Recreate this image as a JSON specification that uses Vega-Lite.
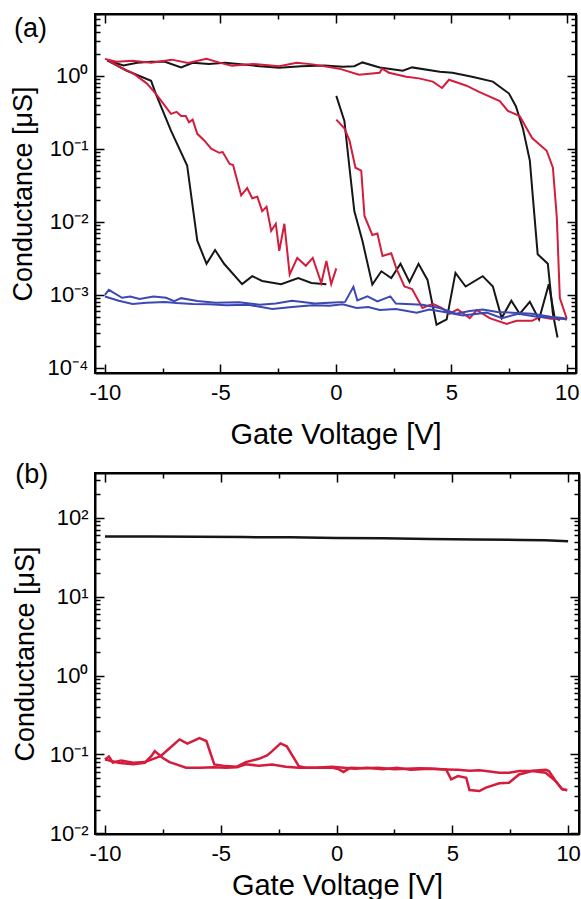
{
"$schema": "https://vega.github.io/schema/vega-lite/v6.json",
"padding": {"top": 12, "left": 8, "right": 4, "bottom": 0},
"background": "white",
"config": {
 "view": {"stroke": "black", "strokeWidth": 2},
 "font": "Liberation Sans",
 "axis": {"grid": false, "domainColor": "black", "domainWidth": 2, "tickColor": "black", "tickWidth": 1.5,
  "labelFont": "Liberation Sans", "labelFontSize": 22, "labelColor": "black",
  "titleFont": "Liberation Sans", "titleFontSize": 27, "titleFontWeight": "normal", "titleColor": "black"},
 "title": {"font": "Liberation Sans", "fontSize": 27, "fontWeight": "normal", "color": "black"}
},
"spacing": 10,
"datasets": {
"a": [
{"trace":"k1","sample":"S1","V":-9.9,"G":1.62},{"trace":"k1","sample":"S1","V":-9.2,"G":1.38},{"trace":"k1","sample":"S1","V":-8.6,"G":1.5},{"trace":"k1","sample":"S1","V":-8.0,"G":1.55},{"trace":"k1","sample":"S1","V":-7.4,"G":1.55},{"trace":"k1","sample":"S1","V":-6.7,"G":1.3},{"trace":"k1","sample":"S1","V":-6.2,"G":1.5},{"trace":"k1","sample":"S1","V":-5.5,"G":1.45},{"trace":"k1","sample":"S1","V":-4.8,"G":1.5},{"trace":"k1","sample":"S1","V":-4.0,"G":1.42},{"trace":"k1","sample":"S1","V":-3.3,"G":1.35},{"trace":"k1","sample":"S1","V":-2.45,"G":1.29},{"trace":"k1","sample":"S1","V":-1.5,"G":1.35},{"trace":"k1","sample":"S1","V":-0.5,"G":1.38},{"trace":"k1","sample":"S1","V":0.3,"G":1.33},{"trace":"k1","sample":"S1","V":0.8,"G":1.35},{"trace":"k1","sample":"S1","V":1.15,"G":1.52},{"trace":"k1","sample":"S1","V":1.9,"G":1.3},{"trace":"k1","sample":"S1","V":2.9,"G":1.17},{"trace":"k1","sample":"S1","V":3.3,"G":1.3},{"trace":"k1","sample":"S1","V":4.5,"G":1.13},{"trace":"k1","sample":"S1","V":5.05,"G":1.1},{"trace":"k1","sample":"S1","V":5.9,"G":0.97},{"trace":"k1","sample":"S1","V":6.8,"G":0.83},{"trace":"k1","sample":"S1","V":7.5,"G":0.57},{"trace":"k1","sample":"S1","V":7.8,"G":0.38},{"trace":"k1","sample":"S1","V":8.1,"G":0.19},{"trace":"k1","sample":"S1","V":8.4,"G":0.069},{"trace":"k1","sample":"S1","V":8.57,"G":0.0156},{"trace":"k1","sample":"S1","V":8.74,"G":0.0036},{"trace":"k1","sample":"S1","V":9.18,"G":0.00266},{"trace":"k1","sample":"S1","V":9.4,"G":0.00055},{"trace":"k1","sample":"S1","V":9.6,"G":0.00026},
{"trace":"k2","sample":"S1","V":-9.9,"G":1.62},{"trace":"k2","sample":"S1","V":-9.05,"G":1.17},{"trace":"k2","sample":"S1","V":-8.0,"G":0.85},{"trace":"k2","sample":"S1","V":-7.8,"G":0.57},{"trace":"k2","sample":"S1","V":-7.14,"G":0.177},{"trace":"k2","sample":"S1","V":-6.44,"G":0.059},{"trace":"k2","sample":"S1","V":-6.0,"G":0.0055},{"trace":"k2","sample":"S1","V":-5.6,"G":0.00266},{"trace":"k2","sample":"S1","V":-5.23,"G":0.0041},{"trace":"k2","sample":"S1","V":-4.84,"G":0.00266},{"trace":"k2","sample":"S1","V":-4.06,"G":0.0014},{"trace":"k2","sample":"S1","V":-3.62,"G":0.0018},{"trace":"k2","sample":"S1","V":-3.19,"G":0.00155},{"trace":"k2","sample":"S1","V":-2.37,"G":0.0014},{"trace":"k2","sample":"S1","V":-1.63,"G":0.0017},{"trace":"k2","sample":"S1","V":-1.06,"G":0.00145},{"trace":"k2","sample":"S1","V":-0.41,"G":0.0014},
{"trace":"k3","sample":"S1","V":0.02,"G":0.53},{"trace":"k3","sample":"S1","V":0.37,"G":0.24},{"trace":"k3","sample":"S1","V":0.59,"G":0.055},{"trace":"k3","sample":"S1","V":0.8,"G":0.014},{"trace":"k3","sample":"S1","V":1.15,"G":0.0055},{"trace":"k3","sample":"S1","V":1.58,"G":0.00138},{"trace":"k3","sample":"S1","V":1.97,"G":0.0021},{"trace":"k3","sample":"S1","V":2.4,"G":0.0017},{"trace":"k3","sample":"S1","V":2.8,"G":0.00266},{"trace":"k3","sample":"S1","V":3.19,"G":0.0015},{"trace":"k3","sample":"S1","V":3.58,"G":0.00266},{"trace":"k3","sample":"S1","V":3.97,"G":0.0016},{"trace":"k3","sample":"S1","V":4.36,"G":0.00039},{"trace":"k3","sample":"S1","V":4.8,"G":0.00046},{"trace":"k3","sample":"S1","V":5.18,"G":0.002},{"trace":"k3","sample":"S1","V":5.62,"G":0.0013},{"trace":"k3","sample":"S1","V":6.36,"G":0.0018},{"trace":"k3","sample":"S1","V":6.8,"G":0.0013},{"trace":"k3","sample":"S1","V":7.18,"G":0.00048},{"trace":"k3","sample":"S1","V":7.6,"G":0.00083},{"trace":"k3","sample":"S1","V":7.96,"G":0.00055},{"trace":"k3","sample":"S1","V":8.4,"G":0.0008},{"trace":"k3","sample":"S1","V":8.8,"G":0.00046},{"trace":"k3","sample":"S1","V":9.22,"G":0.0014},{"trace":"k3","sample":"S1","V":9.48,"G":0.00048},{"trace":"k3","sample":"S1","V":9.7,"G":0.00045},
{"trace":"r1","sample":"S2","V":-10,"G":1.7},{"trace":"r1","sample":"S2","V":-9.5,"G":1.55},{"trace":"r1","sample":"S2","V":-8.8,"G":1.6},{"trace":"r1","sample":"S2","V":-8.0,"G":1.5},{"trace":"r1","sample":"S2","V":-7.1,"G":1.66},{"trace":"r1","sample":"S2","V":-6.4,"G":1.5},{"trace":"r1","sample":"S2","V":-5.6,"G":1.7},{"trace":"r1","sample":"S2","V":-5.0,"G":1.5},{"trace":"r1","sample":"S2","V":-4.5,"G":1.37},{"trace":"r1","sample":"S2","V":-3.6,"G":1.45},{"trace":"r1","sample":"S2","V":-2.45,"G":1.35},{"trace":"r1","sample":"S2","V":-1.7,"G":1.5},{"trace":"r1","sample":"S2","V":-1.0,"G":1.43},{"trace":"r1","sample":"S2","V":0.15,"G":1.25},{"trace":"r1","sample":"S2","V":1.0,"G":1.03},{"trace":"r1","sample":"S2","V":1.9,"G":1.1},{"trace":"r1","sample":"S2","V":2.0,"G":1.25},{"trace":"r1","sample":"S2","V":2.3,"G":1.1},{"trace":"r1","sample":"S2","V":3.05,"G":0.97},{"trace":"r1","sample":"S2","V":3.6,"G":0.92},{"trace":"r1","sample":"S2","V":4.2,"G":0.83},{"trace":"r1","sample":"S2","V":4.6,"G":0.68},{"trace":"r1","sample":"S2","V":4.9,"G":0.88},{"trace":"r1","sample":"S2","V":5.66,"G":0.73},{"trace":"r1","sample":"S2","V":6.2,"G":0.6},{"trace":"r1","sample":"S2","V":7.1,"G":0.45},{"trace":"r1","sample":"S2","V":7.45,"G":0.33},{"trace":"r1","sample":"S2","V":7.96,"G":0.28},{"trace":"r1","sample":"S2","V":8.5,"G":0.14},{"trace":"r1","sample":"S2","V":9.13,"G":0.094},{"trace":"r1","sample":"S2","V":9.4,"G":0.055},{"trace":"r1","sample":"S2","V":9.57,"G":0.0113},{"trace":"r1","sample":"S2","V":9.7,"G":0.0009},{"trace":"r1","sample":"S2","V":10,"G":0.00047},
{"trace":"r2","sample":"S2","V":-9.9,"G":1.66},{"trace":"r2","sample":"S2","V":-9.3,"G":1.29},{"trace":"r2","sample":"S2","V":-8.74,"G":1.06},{"trace":"r2","sample":"S2","V":-8.18,"G":0.78},{"trace":"r2","sample":"S2","V":-7.8,"G":0.57},{"trace":"r2","sample":"S2","V":-7.14,"G":0.3},{"trace":"r2","sample":"S2","V":-6.9,"G":0.32},{"trace":"r2","sample":"S2","V":-6.7,"G":0.28},{"trace":"r2","sample":"S2","V":-6.5,"G":0.28},{"trace":"r2","sample":"S2","V":-6.36,"G":0.23},{"trace":"r2","sample":"S2","V":-6.2,"G":0.25},{"trace":"r2","sample":"S2","V":-6.0,"G":0.16},{"trace":"r2","sample":"S2","V":-5.7,"G":0.13},{"trace":"r2","sample":"S2","V":-5.4,"G":0.1},{"trace":"r2","sample":"S2","V":-5.05,"G":0.088},{"trace":"r2","sample":"S2","V":-4.9,"G":0.09},{"trace":"r2","sample":"S2","V":-4.6,"G":0.062},{"trace":"r2","sample":"S2","V":-4.45,"G":0.06},{"trace":"r2","sample":"S2","V":-4.1,"G":0.023},{"trace":"r2","sample":"S2","V":-3.84,"G":0.029},{"trace":"r2","sample":"S2","V":-3.62,"G":0.021},{"trace":"r2","sample":"S2","V":-3.4,"G":0.022},{"trace":"r2","sample":"S2","V":-3.19,"G":0.014},{"trace":"r2","sample":"S2","V":-3.0,"G":0.016},{"trace":"r2","sample":"S2","V":-2.8,"G":0.0075},{"trace":"r2","sample":"S2","V":-2.6,"G":0.0094},{"trace":"r2","sample":"S2","V":-2.45,"G":0.004},{"trace":"r2","sample":"S2","V":-2.23,"G":0.0094},{"trace":"r2","sample":"S2","V":-2.0,"G":0.0019},{"trace":"r2","sample":"S2","V":-1.67,"G":0.0032},{"trace":"r2","sample":"S2","V":-1.3,"G":0.0025},{"trace":"r2","sample":"S2","V":-1.0,"G":0.0032},{"trace":"r2","sample":"S2","V":-0.63,"G":0.00145},{"trace":"r2","sample":"S2","V":-0.41,"G":0.0029},{"trace":"r2","sample":"S2","V":-0.2,"G":0.0014},{"trace":"r2","sample":"S2","V":0.02,"G":0.0023},
{"trace":"r3","sample":"S2","V":0.02,"G":0.25},{"trace":"r3","sample":"S2","V":0.37,"G":0.19},{"trace":"r3","sample":"S2","V":0.59,"G":0.13},{"trace":"r3","sample":"S2","V":0.85,"G":0.055},{"trace":"r3","sample":"S2","V":1.1,"G":0.05},{"trace":"r3","sample":"S2","V":1.24,"G":0.012},{"trace":"r3","sample":"S2","V":1.58,"G":0.0066},{"trace":"r3","sample":"S2","V":1.8,"G":0.0069},{"trace":"r3","sample":"S2","V":2.02,"G":0.0034},{"trace":"r3","sample":"S2","V":2.4,"G":0.0037},{"trace":"r3","sample":"S2","V":2.62,"G":0.0023},{"trace":"r3","sample":"S2","V":2.97,"G":0.0013},{"trace":"r3","sample":"S2","V":3.3,"G":0.0012},{"trace":"r3","sample":"S2","V":3.75,"G":0.00066},{"trace":"r3","sample":"S2","V":4.2,"G":0.00075},{"trace":"r3","sample":"S2","V":4.6,"G":0.00066},{"trace":"r3","sample":"S2","V":4.92,"G":0.00055},{"trace":"r3","sample":"S2","V":5.27,"G":0.00063},{"trace":"r3","sample":"S2","V":5.8,"G":0.00048},{"trace":"r3","sample":"S2","V":6.1,"G":0.00062},{"trace":"r3","sample":"S2","V":6.66,"G":0.00048},{"trace":"r3","sample":"S2","V":7.4,"G":0.0004},{"trace":"r3","sample":"S2","V":7.83,"G":0.00044},{"trace":"r3","sample":"S2","V":8.5,"G":0.00044},{"trace":"r3","sample":"S2","V":8.84,"G":0.0005},{"trace":"r3","sample":"S2","V":9.3,"G":0.00047},{"trace":"r3","sample":"S2","V":10,"G":0.00047},
{"trace":"b1","sample":"S3","V":-10,"G":0.001},{"trace":"b1","sample":"S3","V":-9.83,"G":0.00117},{"trace":"b1","sample":"S3","V":-9.26,"G":0.00091},{"trace":"b1","sample":"S3","V":-8.9,"G":0.00095},{"trace":"b1","sample":"S3","V":-8.5,"G":0.00088},{"trace":"b1","sample":"S3","V":-7.9,"G":0.00095},{"trace":"b1","sample":"S3","V":-7.35,"G":0.00091},{"trace":"b1","sample":"S3","V":-7.0,"G":0.00082},{"trace":"b1","sample":"S3","V":-6.7,"G":0.0009},{"trace":"b1","sample":"S3","V":-6.0,"G":0.00082},{"trace":"b1","sample":"S3","V":-5.2,"G":0.00078},{"trace":"b1","sample":"S3","V":-4.2,"G":0.00079},{"trace":"b1","sample":"S3","V":-3.3,"G":0.00073},{"trace":"b1","sample":"S3","V":-2.6,"G":0.00076},{"trace":"b1","sample":"S3","V":-1.9,"G":0.00083},{"trace":"b1","sample":"S3","V":-0.9,"G":0.00076},{"trace":"b1","sample":"S3","V":-0.28,"G":0.00078},{"trace":"b1","sample":"S3","V":0.4,"G":0.0008},{"trace":"b1","sample":"S3","V":0.76,"G":0.00129},{"trace":"b1","sample":"S3","V":0.93,"G":0.00084},{"trace":"b1","sample":"S3","V":1.37,"G":0.00095},{"trace":"b1","sample":"S3","V":1.8,"G":0.00081},{"trace":"b1","sample":"S3","V":2.36,"G":0.00095},{"trace":"b1","sample":"S3","V":2.6,"G":0.00076},{"trace":"b1","sample":"S3","V":3.75,"G":0.00073},{"trace":"b1","sample":"S3","V":4.5,"G":0.00066},{"trace":"b1","sample":"S3","V":5.2,"G":0.00055},{"trace":"b1","sample":"S3","V":5.8,"G":0.0006},{"trace":"b1","sample":"S3","V":6.36,"G":0.00063},{"trace":"b1","sample":"S3","V":7.0,"G":0.00058},{"trace":"b1","sample":"S3","V":7.66,"G":0.00057},{"trace":"b1","sample":"S3","V":8.5,"G":0.00055},{"trace":"b1","sample":"S3","V":9.3,"G":0.0005},{"trace":"b1","sample":"S3","V":9.83,"G":0.00048},{"trace":"b1","sample":"S3","V":10,"G":0.00046},
{"trace":"b2","sample":"S3","V":-10,"G":0.00095},{"trace":"b2","sample":"S3","V":-9.4,"G":0.00083},{"trace":"b2","sample":"S3","V":-8.8,"G":0.00075},{"trace":"b2","sample":"S3","V":-8.2,"G":0.00078},{"trace":"b2","sample":"S3","V":-7.4,"G":0.0008},{"trace":"b2","sample":"S3","V":-6.9,"G":0.00077},{"trace":"b2","sample":"S3","V":-6.2,"G":0.00075},{"trace":"b2","sample":"S3","V":-5.5,"G":0.00074},{"trace":"b2","sample":"S3","V":-4.75,"G":0.00072},{"trace":"b2","sample":"S3","V":-3.8,"G":0.00073},{"trace":"b2","sample":"S3","V":-2.75,"G":0.00064},{"trace":"b2","sample":"S3","V":-1.9,"G":0.00068},{"trace":"b2","sample":"S3","V":-1.0,"G":0.00072},{"trace":"b2","sample":"S3","V":-0.28,"G":0.00071},{"trace":"b2","sample":"S3","V":0.3,"G":0.00074},{"trace":"b2","sample":"S3","V":0.9,"G":0.00066},{"trace":"b2","sample":"S3","V":1.4,"G":0.00068},{"trace":"b2","sample":"S3","V":1.9,"G":0.00062},{"trace":"b2","sample":"S3","V":2.6,"G":0.00064},{"trace":"b2","sample":"S3","V":3.5,"G":0.00057},{"trace":"b2","sample":"S3","V":4.05,"G":0.00063},{"trace":"b2","sample":"S3","V":4.7,"G":0.00058},{"trace":"b2","sample":"S3","V":5.5,"G":0.00052},{"trace":"b2","sample":"S3","V":6.53,"G":0.00057},{"trace":"b2","sample":"S3","V":7.2,"G":0.00048},{"trace":"b2","sample":"S3","V":7.9,"G":0.00055},{"trace":"b2","sample":"S3","V":8.7,"G":0.0005},{"trace":"b2","sample":"S3","V":9.3,"G":0.00049},{"trace":"b2","sample":"S3","V":9.83,"G":0.00047},{"trace":"b2","sample":"S3","V":10,"G":0.00046}
],
"b": [
{"trace":"k","sample":"S1","V":-10,"G":58},{"trace":"k","sample":"S1","V":-8,"G":58},{"trace":"k","sample":"S1","V":-6,"G":57.5},{"trace":"k","sample":"S1","V":-4,"G":57},{"trace":"k","sample":"S1","V":-2,"G":56.5},{"trace":"k","sample":"S1","V":0,"G":55.5},{"trace":"k","sample":"S1","V":2,"G":55},{"trace":"k","sample":"S1","V":4,"G":54},{"trace":"k","sample":"S1","V":6,"G":53},{"trace":"k","sample":"S1","V":8,"G":52.5},{"trace":"k","sample":"S1","V":9,"G":52},{"trace":"k","sample":"S1","V":10,"G":50.5},
{"trace":"rA","sample":"S2","V":-10,"G":0.0865},{"trace":"rA","sample":"S2","V":-9.83,"G":0.094},{"trace":"rA","sample":"S2","V":-9.66,"G":0.079},{"trace":"rA","sample":"S2","V":-9.3,"G":0.084},{"trace":"rA","sample":"S2","V":-8.78,"G":0.0785},{"trace":"rA","sample":"S2","V":-8.28,"G":0.08},{"trace":"rA","sample":"S2","V":-7.6,"G":0.095},{"trace":"rA","sample":"S2","V":-7.21,"G":0.12},{"trace":"rA","sample":"S2","V":-6.78,"G":0.155},{"trace":"rA","sample":"S2","V":-6.44,"G":0.137},{"trace":"rA","sample":"S2","V":-5.92,"G":0.161},{"trace":"rA","sample":"S2","V":-5.62,"G":0.148},{"trace":"rA","sample":"S2","V":-5.28,"G":0.0747},{"trace":"rA","sample":"S2","V":-4.78,"G":0.0711},{"trace":"rA","sample":"S2","V":-4.3,"G":0.07},{"trace":"rA","sample":"S2","V":-3.92,"G":0.08},{"trace":"rA","sample":"S2","V":-3.35,"G":0.088},{"trace":"rA","sample":"S2","V":-3.0,"G":0.097},{"trace":"rA","sample":"S2","V":-2.78,"G":0.11},{"trace":"rA","sample":"S2","V":-2.42,"G":0.138},{"trace":"rA","sample":"S2","V":-2.15,"G":0.127},{"trace":"rA","sample":"S2","V":-1.63,"G":0.0711},{"trace":"rA","sample":"S2","V":-1.33,"G":0.0678},{"trace":"rA","sample":"S2","V":-0.6,"G":0.068},{"trace":"rA","sample":"S2","V":-0.2,"G":0.068},{"trace":"rA","sample":"S2","V":0.1,"G":0.0646},{"trace":"rA","sample":"S2","V":0.3,"G":0.06},{"trace":"rA","sample":"S2","V":0.6,"G":0.068},{"trace":"rA","sample":"S2","V":1.2,"G":0.067},{"trace":"rA","sample":"S2","V":1.8,"G":0.0678},{"trace":"rA","sample":"S2","V":2.5,"G":0.065},{"trace":"rA","sample":"S2","V":3.0,"G":0.066},{"trace":"rA","sample":"S2","V":3.6,"G":0.067},{"trace":"rA","sample":"S2","V":4.2,"G":0.066},{"trace":"rA","sample":"S2","V":4.73,"G":0.0646},{"trace":"rA","sample":"S2","V":4.95,"G":0.0483},{"trace":"rA","sample":"S2","V":5.24,"G":0.0532},{"trace":"rA","sample":"S2","V":5.6,"G":0.0507},{"trace":"rA","sample":"S2","V":5.74,"G":0.0354},{"trace":"rA","sample":"S2","V":6.17,"G":0.0343},{"trace":"rA","sample":"S2","V":6.45,"G":0.038},{"trace":"rA","sample":"S2","V":7.03,"G":0.043},{"trace":"rA","sample":"S2","V":7.45,"G":0.0438},{"trace":"rA","sample":"S2","V":7.88,"G":0.0558},{"trace":"rA","sample":"S2","V":8.45,"G":0.0615},{"trace":"rA","sample":"S2","V":9.03,"G":0.0586},{"trace":"rA","sample":"S2","V":9.46,"G":0.046},{"trace":"rA","sample":"S2","V":9.74,"G":0.036},{"trace":"rA","sample":"S2","V":9.96,"G":0.0354},
{"trace":"rB","sample":"S2","V":-10,"G":0.0865},{"trace":"rB","sample":"S2","V":-9.7,"G":0.082},{"trace":"rB","sample":"S2","V":-9.36,"G":0.078},{"trace":"rB","sample":"S2","V":-8.78,"G":0.075},{"trace":"rB","sample":"S2","V":-8.28,"G":0.0785},{"trace":"rB","sample":"S2","V":-8.0,"G":0.095},{"trace":"rB","sample":"S2","V":-7.85,"G":0.11},{"trace":"rB","sample":"S2","V":-7.5,"G":0.09},{"trace":"rB","sample":"S2","V":-7.21,"G":0.08},{"trace":"rB","sample":"S2","V":-6.92,"G":0.0747},{"trace":"rB","sample":"S2","V":-6.5,"G":0.0678},{"trace":"rB","sample":"S2","V":-5.9,"G":0.0678},{"trace":"rB","sample":"S2","V":-5.3,"G":0.069},{"trace":"rB","sample":"S2","V":-4.78,"G":0.068},{"trace":"rB","sample":"S2","V":-4.3,"G":0.069},{"trace":"rB","sample":"S2","V":-3.92,"G":0.075},{"trace":"rB","sample":"S2","V":-3.35,"G":0.072},{"trace":"rB","sample":"S2","V":-2.78,"G":0.0747},{"trace":"rB","sample":"S2","V":-2.2,"G":0.07},{"trace":"rB","sample":"S2","V":-1.63,"G":0.0678},{"trace":"rB","sample":"S2","V":-0.9,"G":0.068},{"trace":"rB","sample":"S2","V":-0.2,"G":0.07},{"trace":"rB","sample":"S2","V":0.3,"G":0.068},{"trace":"rB","sample":"S2","V":0.8,"G":0.066},{"trace":"rB","sample":"S2","V":1.3,"G":0.068},{"trace":"rB","sample":"S2","V":2.0,"G":0.065},{"trace":"rB","sample":"S2","V":2.6,"G":0.068},{"trace":"rB","sample":"S2","V":3.2,"G":0.064},{"trace":"rB","sample":"S2","V":4.0,"G":0.066},{"trace":"rB","sample":"S2","V":4.73,"G":0.0646},{"trace":"rB","sample":"S2","V":5.24,"G":0.064},{"trace":"rB","sample":"S2","V":5.74,"G":0.062},{"trace":"rB","sample":"S2","V":6.17,"G":0.063},{"trace":"rB","sample":"S2","V":6.45,"G":0.0615},{"trace":"rB","sample":"S2","V":7.03,"G":0.0586},{"trace":"rB","sample":"S2","V":7.45,"G":0.0586},{"trace":"rB","sample":"S2","V":7.88,"G":0.0615},{"trace":"rB","sample":"S2","V":8.45,"G":0.062},{"trace":"rB","sample":"S2","V":9.03,"G":0.064},{"trace":"rB","sample":"S2","V":9.17,"G":0.0615},{"trace":"rB","sample":"S2","V":9.46,"G":0.046},{"trace":"rB","sample":"S2","V":9.74,"G":0.0365},{"trace":"rB","sample":"S2","V":9.96,"G":0.035}
]
},
"vconcat": [
{
 "title": {"text": "(a)", "anchor": "start", "frame": "bounds", "offset": 0, "dy": 30, "dx": 5},
 "width": 481, "height": 359,
 "data": {"name": "a"},
 "resolve": {"axis": {"x": "independent", "y": "independent"}},
 "layer": [
  {"mark": {"type": "line", "strokeWidth": 2, "clip": true},
   "encoding": {
    "x": {"field": "V", "type": "quantitative", "scale": {"domain": [-10.43, 10.4], "nice": false, "zero": false},
      "axis": {"orient": "bottom", "title": "Gate Voltage [V]", "titleFontSize": 29, "values": [-10,-7.5,-5,-2.5,0,2.5,5,7.5,10],
        "labelExpr": "datum.value % 5 == 0 ? toString(datum.value) : ''",
        "tickSize": {"condition": {"test": "datum.value % 5 == 0", "value": -9}, "value": -5},
        "labelPadding": 18, "titlePadding": 17}},
    "y": {"field": "G", "type": "quantitative", "scale": {"type": "log", "domain": [0.000085, 7], "nice": false},
      "axis": {"orient": "left", "title": "Conductance [μS]",
        "values": [0.0001,0.0002,0.0003,0.0004,0.0005,0.0006,0.0007,0.0008,0.0009,0.001,0.002,0.003,0.004,0.005,0.006,0.007,0.008,0.009,0.01,0.02,0.03,0.04,0.05,0.06,0.07,0.08,0.09,0.1,0.2,0.3,0.4,0.5,0.6,0.7,0.8,0.9,1,2,3,4,5,6,7],
        "labelExpr": "abs(log(datum.value)/LN10 - round(log(datum.value)/LN10)) < 0.001 ? (round(log(datum.value)/LN10) == 0 ? '10⁰' : round(log(datum.value)/LN10) == 1 ? '10¹' : round(log(datum.value)/LN10) == 2 ? '10²' : round(log(datum.value)/LN10) == -1 ? '10⁻¹' : round(log(datum.value)/LN10) == -2 ? '10⁻²' : round(log(datum.value)/LN10) == -3 ? '10⁻³' : '10⁻⁴') : ''",
        "tickSize": {"condition": {"test": "abs(log(datum.value)/LN10 - round(log(datum.value)/LN10)) < 0.001", "value": -9}, "value": -5},
        "labelPadding": 16, "titlePadding": 10}},
    "color": {"field": "sample", "type": "nominal", "scale": {"domain": ["S1","S2","S3"], "range": ["#161616","#d41c3c","#3d48b3"]}, "legend": null},
    "detail": {"field": "trace"}
   }},
  {"mark": {"type": "line", "strokeOpacity": 0},
   "encoding": {
    "x": {"field": "V", "type": "quantitative",
      "axis": {"orient": "top", "title": null, "labels": false, "values": [-10,-7.5,-5,-2.5,0,2.5,5,7.5,10],
        "tickSize": {"condition": {"test": "datum.value % 5 == 0", "value": -9}, "value": -5}}},
    "y": {"field": "G", "type": "quantitative",
      "axis": {"orient": "right", "title": null, "labels": false,
        "values": [0.0001,0.0002,0.0003,0.0004,0.0005,0.0006,0.0007,0.0008,0.0009,0.001,0.002,0.003,0.004,0.005,0.006,0.007,0.008,0.009,0.01,0.02,0.03,0.04,0.05,0.06,0.07,0.08,0.09,0.1,0.2,0.3,0.4,0.5,0.6,0.7,0.8,0.9,1,2,3,4,5,6,7],
        "tickSize": {"condition": {"test": "abs(log(datum.value)/LN10 - round(log(datum.value)/LN10)) < 0.001", "value": -9}, "value": -5}}},
    "detail": {"field": "trace"}
   }}
 ]
},
{
 "title": {"text": "(b)", "anchor": "start", "frame": "bounds", "offset": 0, "dy": 17, "dx": 4},
 "width": 484, "height": 361,
 "data": {"name": "b"},
 "resolve": {"axis": {"x": "independent", "y": "independent"}},
 "layer": [
  {"mark": {"type": "line", "strokeWidth": 2.5, "clip": true},
   "encoding": {
    "x": {"field": "V", "type": "quantitative", "scale": {"domain": [-10.43, 10.47], "nice": false, "zero": false},
      "axis": {"orient": "bottom", "title": "Gate Voltage [V]", "titleFontSize": 29, "values": [-10,-7.5,-5,-2.5,0,2.5,5,7.5,10],
        "labelExpr": "datum.value % 5 == 0 ? toString(datum.value) : ''",
        "tickSize": {"condition": {"test": "datum.value % 5 == 0", "value": -9}, "value": -5},
        "labelPadding": 18, "titlePadding": 7}},
    "y": {"field": "G", "type": "quantitative", "scale": {"type": "log", "domain": [0.0098, 370], "nice": false},
      "axis": {"orient": "left", "title": "Conductance [μS]",
        "values": [0.01,0.02,0.03,0.04,0.05,0.06,0.07,0.08,0.09,0.1,0.2,0.3,0.4,0.5,0.6,0.7,0.8,0.9,1,2,3,4,5,6,7,8,9,10,20,30,40,50,60,70,80,90,100,200,300],
        "labelExpr": "abs(log(datum.value)/LN10 - round(log(datum.value)/LN10)) < 0.001 ? (round(log(datum.value)/LN10) == 0 ? '10⁰' : round(log(datum.value)/LN10) == 1 ? '10¹' : round(log(datum.value)/LN10) == 2 ? '10²' : round(log(datum.value)/LN10) == -1 ? '10⁻¹' : round(log(datum.value)/LN10) == -2 ? '10⁻²' : round(log(datum.value)/LN10) == -3 ? '10⁻³' : '10⁻⁴') : ''",
        "tickSize": {"condition": {"test": "abs(log(datum.value)/LN10 - round(log(datum.value)/LN10)) < 0.001", "value": -9}, "value": -5},
        "labelPadding": 16, "titlePadding": 10}},
    "color": {"field": "sample", "type": "nominal", "scale": {"domain": ["S1","S2","S3"], "range": ["#161616","#d41c3c","#3d48b3"]}, "legend": null},
    "detail": {"field": "trace"}
   }},
  {"mark": {"type": "line", "strokeOpacity": 0},
   "encoding": {
    "x": {"field": "V", "type": "quantitative",
      "axis": {"orient": "top", "title": null, "labels": false, "values": [-10,-7.5,-5,-2.5,0,2.5,5,7.5,10],
        "tickSize": {"condition": {"test": "datum.value % 5 == 0", "value": -9}, "value": -5}}},
    "y": {"field": "G", "type": "quantitative",
      "axis": {"orient": "right", "title": null, "labels": false,
        "values": [0.01,0.02,0.03,0.04,0.05,0.06,0.07,0.08,0.09,0.1,0.2,0.3,0.4,0.5,0.6,0.7,0.8,0.9,1,2,3,4,5,6,7,8,9,10,20,30,40,50,60,70,80,90,100,200,300],
        "tickSize": {"condition": {"test": "abs(log(datum.value)/LN10 - round(log(datum.value)/LN10)) < 0.001", "value": -9}, "value": -5}}},
    "detail": {"field": "trace"}
   }}
 ]
}
]
}
